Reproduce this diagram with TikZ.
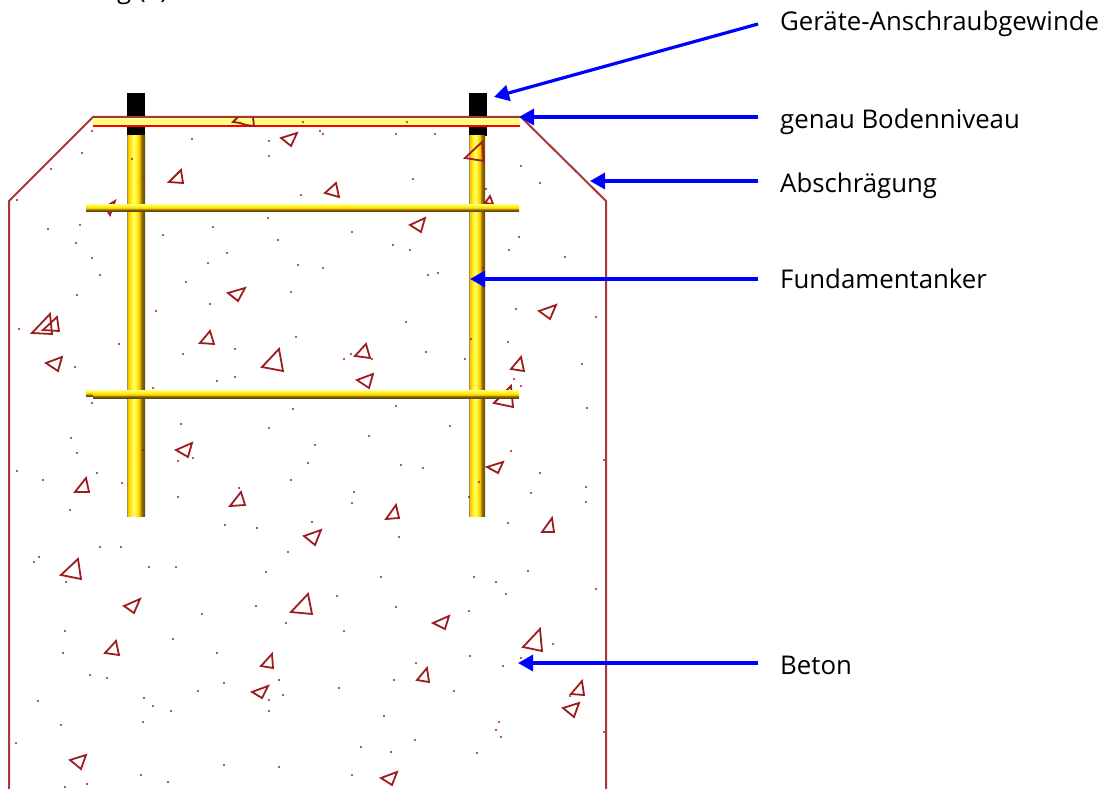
\documentclass[tikz,border=0pt]{standalone}
\usepackage{fontspec}
\setmainfont{Open Sans}
\usetikzlibrary{arrows.meta}
\definecolor{concrete}{HTML}{A83838}
\definecolor{stone}{HTML}{9C1C20}
\definecolor{pointer}{HTML}{0000FF}
\definecolor{bandfill}{HTML}{FFFF80}
\definecolor{rodedge}{HTML}{A09050}
\definecolor{rodgold}{HTML}{FFC000}
\definecolor{rodyellow}{HTML}{FFF010}
\definecolor{rodpale}{HTML}{FFFF80}
\definecolor{roddark}{HTML}{8A6A00}
\definecolor{rodbrown}{HTML}{5C4A10}
\pgfdeclarehorizontalshading{anchorbar}{100bp}{
 color(0bp)=(rodedge); color(25bp)=(rodedge);
 color(28bp)=(rodgold); color(36bp)=(rodyellow); color(44bp)=(rodpale);
 color(52bp)=(rodyellow); color(59bp)=(rodgold); color(66bp)=(roddark);
 color(75bp)=(rodbrown); color(100bp)=(rodbrown)}
\pgfdeclareverticalshading{rebarbar}{100bp}{
 color(0bp)=(rodbrown); color(25bp)=(rodbrown); color(36bp)=(roddark);
 color(44bp)=(rodgold); color(56bp)=(rodyellow); color(75bp)=(rodpale); color(100bp)=(rodpale)}
\tikzset{
 outlinepath/.style={draw=concrete,line width=2pt},
 stonepath/.style={draw=stone,line width=1.8pt,line join=miter},
 threadblock/.style={fill=black},
 anchorrod/.style={shading=anchorbar},
 rebarrod/.style={shading=rebarbar},
 pointerline/.style={draw=pointer,line width=3.2pt,-{Triangle[length=15pt,width=16pt]}},
 labeltext/.style={anchor=base west,inner sep=0pt,font=\fontsize{25.8}{30}\selectfont,text=black},
 grain/.style={fill=stone,draw=none}
}
\newcommand{\stonetri}[3]{\draw[stonepath] #1 -- #2 -- #3 -- cycle;}
\begin{document}
\begin{tikzpicture}[x=1pt,y=-1pt]
\useasboundingbox (0,0) rectangle (1103,789);
% outline
\draw[outlinepath] (9,789) -- (9,201) -- (93,117) -- (521,117) -- (606,201) -- (606,789);
% threaded ends
\fill[threadblock] (127,93) rectangle (145,136);
\fill[threadblock] (469,93) rectangle (487,136);
% anchor rods
\path[anchorrod] (127,136) rectangle (145,516);
\path[anchorrod] (469,136) rectangle (485,516);
% ground level band
\fill[bandfill] (93,117) rectangle (520,126);
\draw[draw=concrete,line width=1.8pt] (93,117) -- (521,117);
\draw[draw=red,line width=1.6pt] (93,126) -- (520,126);
% stones under the rebars
\stonetri{(105,207)}{(115,201)}{(110,215)}
\stonetri{(485,203)}{(490,196)}{(493,204)}
\stonetri{(494,403)}{(511,386)}{(513,407)}
% rebars
\path[rebarrod] (86,204) rectangle (519,211);
\path[rebarrod] (86,390) rectangle (93,396);
\path[rebarrod] (93,390) rectangle (519,398);
% stones
\draw[stonepath] (238,117) -- (233,122) -- (240,123) -- (246,125) -- (254,126) -- (253,117);
\foreach \ax/\ay/\bx/\by/\cx/\cy in {
 169/182/181/170/183/183, 325/193/336/183/339/197, 465/158/482/142/484/161,
 281/138/297/133/291/146, 410/225/425/218/421/232, 228/293/245/288/238/301,
 32/333/50/314/52/334, 43/330/57/317/59/331, 46/363/62/357/58/371,
 200/343/210/331/214/344, 262/367/279/349/283/371, 176/450/192/443/188/457,
 75/492/86/478/89/492, 230/506/241/492/245/505, 539/311/556/305/550/319,
 355/356/366/344/370/358, 357/380/373/374/369/388, 511/369/521/357/524/371,
 487/467/503/462/498/473, 386/519/396/505/399/518, 542/532/552/518/554/532,
 304/536/321/530/315/545, 61/575/78/559/81/579, 124/606/140/599/134/613,
 105/653/116/641/119/655, 291/612/308/594/312/614, 261/666/272/654/273/668,
 252/692/268/686/262/698, 70/760/86/755/81/769, 433/623/449/616/445/629,
 523/647/540/629/542/651, 417/680/427/668/429/682, 571/694/582/681/584/695,
 563/708/579/703/574/717, 381/778/397/772/392/785}
 {\draw[stonepath] (\ax,\ay) -- (\bx,\by) -- (\cx,\cy) -- cycle;}
% grains
\foreach \px/\py in {
 92/131,82/153,51/169,17/200,132/159,144/178,192/139,269/141,269/156,213/227,
 268/218,80/225,48/229,205/126,407/122,435/134,413/179,521/166,540/183,486/189,
 519/237,303/122,320/131,323/134,396/134,301/195,163/235,278/240,352/232,393/245,
 227/253,208/263,298/265,323/268,186/282,291/292,77/295,156/311,210/304,19/329,
 119/344,296/337,183/354,235/349,75/367,217/381,235/377,153/388,92/403,293/409,
 181/424,269/428,71/438,77/453,143/450,193/458,178/461,17/471,97/473,43/480,
 122/483,291/480,178/497,239/488,70/510,225/525,257/528,406/322,516/309,596/317,
 471/339,508/342,351/354,344/359,372/359,426/352,465/359,582/364,514/379,521/386,
 396/406,587/408,450/426,369/436,315/445,511/451,308/463,401/465,423/468,604/460,
 540/473,479/482,586/487,354/492,531/493,586/502,352/503,469/497,312/522,508/523,
 399/537,39/557,34/562,100/547,121/547,149/567,176/567,66/582,288/552,266/572,
 256/606,202/614,286/623,65/631,173/639,63/653,217/653,90/675,107/678,279/680,
 224/683,198/691,144/698,283/695,269/700,38/701,153/706,171/711,269/711,143/722,
 61/725,16/743,224/765,279/767,141/775,168/782,87/784,65/787,528/571,381/577,
 474/577,496/582,506/594,596/589,337/596,396/607,469/611,344/631,553/644,521/658,
 470/656,503/666,416/663,394/680,454/691,339/688,570/696,384/716,499/722,496/730,
 501/737,604/732,415/740,361/747,391/752,477/753,352/775,410/250,509/250,565/257,
 483/268,428/275,438/273,76/243,92/258,100/275}
 {\fill[grain] (\px,\py) circle (1.2);}
% labels
\node[labeltext] (clip) at (117,-1) {g (3)};
\node[labeltext] (gewinde) at (780,31) {Geräte-Anschraubgewinde};
\node[labeltext] (niveau) at (780,129) {genau Bodenniveau};
\node[labeltext] (schraege) at (780,193) {Abschrägung};
\node[labeltext] (anker) at (780,288) {Fundamentanker};
\node[labeltext] (beton) at (780,674) {Beton};
% pointers
\coordinate (g0) at (758,24);  \coordinate (g1) at (494,97);
\coordinate (n0) at (758,117); \coordinate (n1) at (519,117);
\coordinate (s0) at (758,181); \coordinate (s1) at (590,181);
\coordinate (a0) at (758,279); \coordinate (a1) at (470,279);
\coordinate (b0) at (758,663); \coordinate (b1) at (518,663);
\draw[pointerline] (g0) -- (g1);
\draw[pointerline] (n0) -- (n1);
\draw[pointerline] (s0) -- (s1);
\draw[pointerline] (a0) -- (a1);
\draw[pointerline] (b0) -- (b1);
\end{tikzpicture}
\end{document}
